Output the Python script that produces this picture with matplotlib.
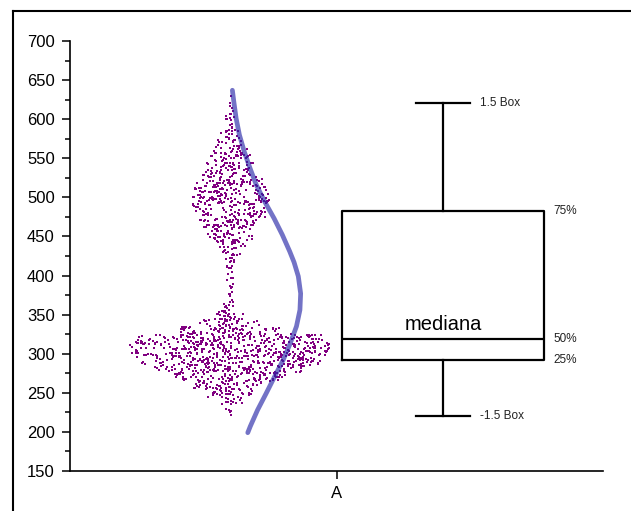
import numpy as np
import matplotlib.pyplot as plt
from matplotlib.lines import Line2D

plt.rcParams['font.family'] = ['Liberation Sans', 'DejaVu Sans']

# data points, counted per 10-unit bin (bin centres)
bin_centers = [220, 230, 240, 250, 260, 270, 280, 290, 300, 310, 320, 330, 340, 350,
               360, 370, 380, 390, 400, 410, 420, 430, 440, 450, 460, 470, 480, 490,
               500, 510, 520, 530, 540, 550, 560, 570, 580, 590, 600, 610, 620, 630]
bin_counts = [1, 5, 16, 29, 48, 72, 98, 120, 130, 130, 124, 65, 39, 20,
              8, 4, 4, 4, 4, 5, 8, 13, 22, 29, 34, 40, 46, 49,
              51, 48, 43, 35, 31, 27, 22, 16, 12, 8, 6, 4, 2, 1]

# normal curve (value, relative density)
curve_y = [637, 622, 601, 580, 558, 537, 516, 495, 473, 452, 431, 417, 399,
           377, 356, 335, 313, 292, 271, 249, 228, 207, 199]
curve_d = [0.035, 0.056, 0.088, 0.134, 0.204, 0.285, 0.372, 0.488, 0.624, 0.740,
           0.843, 0.905, 0.965, 0.998, 0.988, 0.939, 0.850, 0.751, 0.632, 0.510,
           0.390, 0.287, 0.252]

# box statistics
q1, med, q3 = 292, 318.5, 482.6
whis_lo, whis_hi = 220.7, 620.3
category = 'A'

fig = plt.figure(figsize=(6.31, 5.11), dpi=100)
ax = fig.add_axes([70/631, 1 - 471/511, 533/631, 430/511])


def scramble(k):
    # deterministic spread of the points inside their bin
    return (np.sin(k * 12.9898) * 43758.5453) % 1


# swarm of points: width proportional to the bin count
pts_x, pts_y = [], []
cmax = max(bin_counts)
k = 1
for c, n in zip(bin_centers, bin_counts):
    w = 0.375 * n / cmax
    for i in range(n):
        pts_x.append(0.8 + (scramble(k) - 0.5) * w)
        pts_y.append(c - 5 + scramble(k + 0.5) * 10)
        k += 1
ax.plot(pts_x, pts_y, 's', color='purple', markersize=1.6, markeredgewidth=0)

ax.plot(0.8 + 0.133 * np.array(curve_d), curve_y, color='#2828a8', alpha=0.65,
        lw=3.4, solid_capstyle='round', solid_joinstyle='round')

stats = [dict(med=med, q1=q1, q3=q3, whislo=whis_lo, whishi=whis_hi, fliers=[])]
ax.bxp(stats, positions=[1.2], widths=0.378, capwidths=0.101, showfliers=False,
       boxprops=dict(color='black', lw=1.6),
       medianprops=dict(color='black', lw=1.6),
       whiskerprops=dict(color='black', lw=1.6),
       capprops=dict(color='black', lw=1.6))

ax.annotate('mediana', (1.2, med), xytext=(0, 4), textcoords='offset points',
            ha='center', va='bottom', fontsize=14.5)
for val, lab in [(q3, '75%'), (med, '50%'), (q1, '25%')]:
    ax.annotate(lab, (1.389, val), xytext=(7, 0), textcoords='offset points',
                ha='left', va='center', fontsize=8.5, color='#222222')
for val, lab in [(whis_hi, '1.5 Box'), (whis_lo, '-1.5 Box')]:
    ax.annotate(lab, (1.2505, val), xytext=(7, 0), textcoords='offset points',
                ha='left', va='center', fontsize=8.5, color='#222222')

ax.set_xlim(0.5, 1.5)
ax.set_ylim(150, 700)
ax.set_xticks([1])
ax.set_xticklabels([category])
ax.set_yticks(range(150, 701, 50))
ax.set_yticks(range(150, 701, 25), minor=True)
ax.tick_params(axis='both', which='major', length=6, width=1.1, labelsize=12, pad=5)
ax.tick_params(axis='y', which='minor', length=3.5, width=1.1)
ax.spines['top'].set_visible(False)
ax.spines['right'].set_visible(False)
ax.spines['left'].set_linewidth(1.2)
ax.spines['bottom'].set_linewidth(1.2)

# outer frame
fx0 = 13 / 631
fy0 = 1 - 11.5 / 511
fig.add_artist(Line2D([fx0, fx0], [0, fy0], color='black', lw=1.5))
fig.add_artist(Line2D([fx0, 1], [fy0, fy0], color='black', lw=1.5))

fig.savefig('out.png', dpi=100)
